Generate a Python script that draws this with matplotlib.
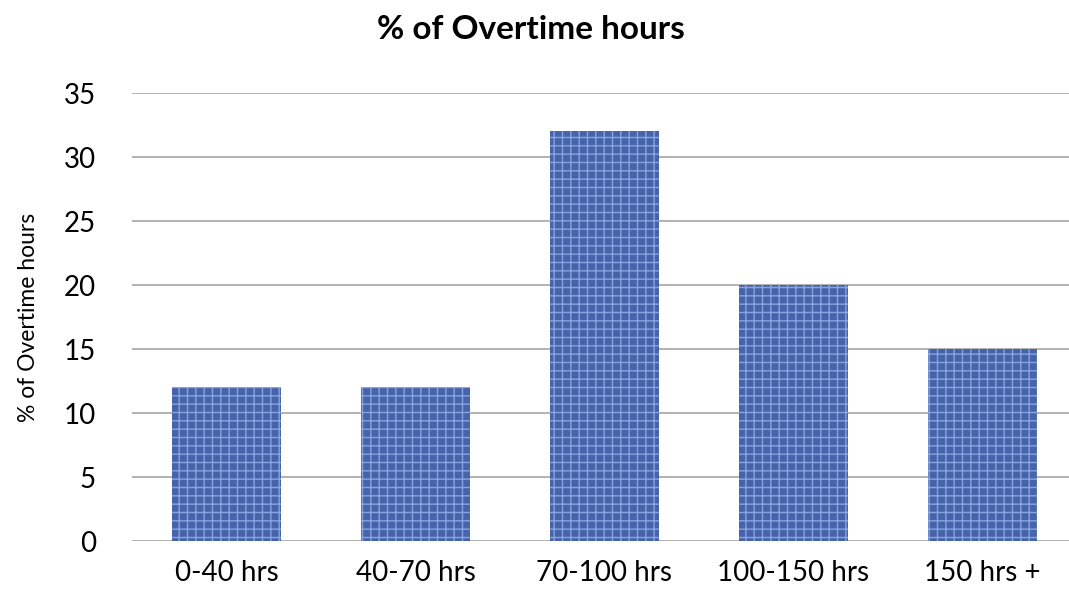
import matplotlib.pyplot as plt

plt.rcParams['font.family'] = ['Lato', 'DejaVu Sans']
plt.rcParams['hatch.linewidth'] = 1.0

categories = ["0-40 hrs", "40-70 hrs", "70-100 hrs", "100-150 hrs", "150 hrs +"]
overtime_pct = [12, 12, 32, 20, 15]
y_ticks = [0, 5, 10, 15, 20, 25, 30, 35]

fig = plt.figure(figsize=(10.69, 5.96), dpi=100)
ax = fig.add_axes([132 / 1069, 55 / 596, 945 / 1069, 448 / 596])

x = range(len(categories))
ax.bar(x, overtime_pct, width=0.58, color="#4764ab", edgecolor="#86a4df",
       linewidth=0, hatch="++", zorder=3)

ax.set_xlim(-0.5, len(categories) - 0.5)
ax.set_ylim(0, 35)
ax.set_yticks(y_ticks)
ax.set_xticks(list(x))
ax.set_xticklabels(categories)
ax.grid(axis="y", color="#a6a6a6", linewidth=1.2, zorder=0)
ax.tick_params(axis="both", length=0, labelsize=20, colors="black")
ax.tick_params(axis="y", pad=26)
ax.tick_params(axis="x", pad=14)
for side in ["top", "right", "left", "bottom"]:
    ax.spines[side].set_visible(False)

ax.set_ylabel("% of Overtime hours", fontsize=16.5, labelpad=18)
fig.suptitle("% of Overtime hours", fontsize=24, fontweight="bold", x=0.497, y=0.975)

fig.savefig("out.png", dpi=100)
